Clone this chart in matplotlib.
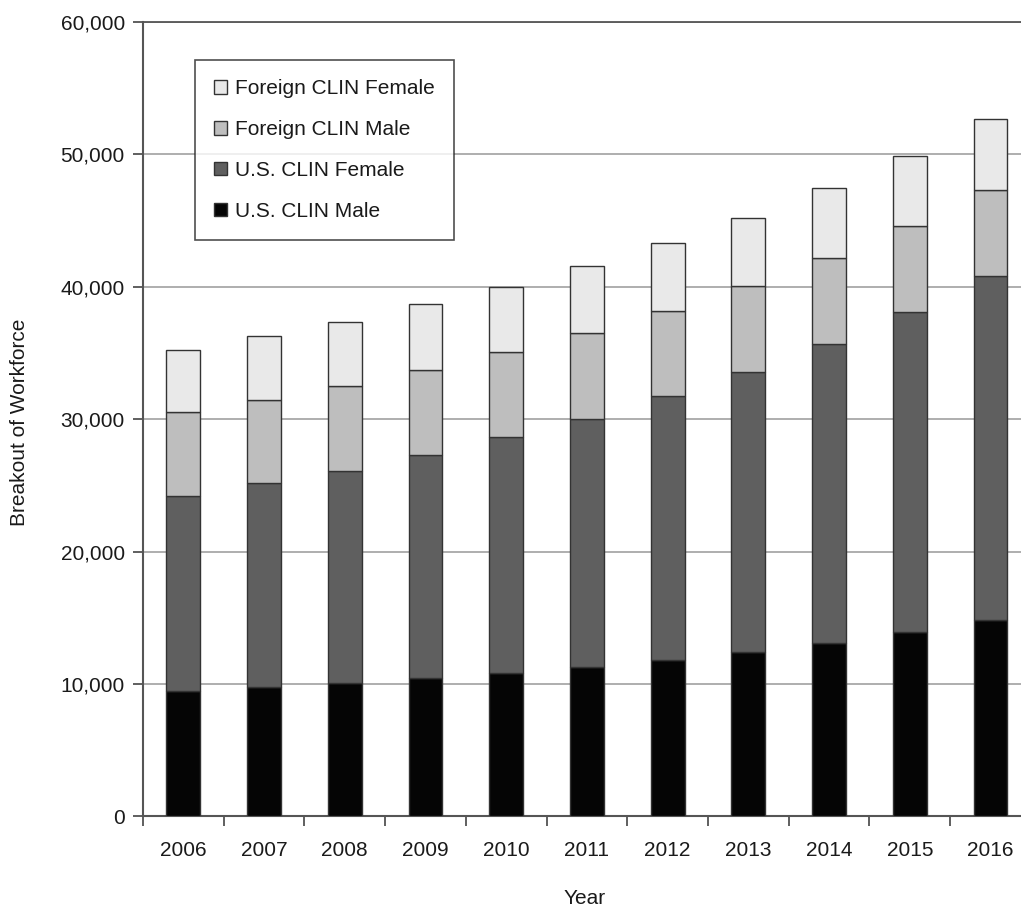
import matplotlib
matplotlib.use("Agg")
import matplotlib.pyplot as plt
from matplotlib.ticker import FuncFormatter, FixedLocator
import numpy as np

plt.rcParams['font.family'] = ['Liberation Sans', 'DejaVu Sans']

years = ["2006", "2007", "2008", "2009", "2010", "2011",
         "2012", "2013", "2014", "2015", "2016"]
us_male = [9500, 9800, 10100, 10430, 10800, 11280, 11830, 12440, 13120, 13920, 14830]
us_female = [14690, 15350, 15980, 16870, 17840, 18750, 19910, 21120, 22570, 24160, 25960]
foreign_male = [6340, 6310, 6430, 6420, 6420, 6450, 6450, 6490, 6480, 6530, 6530]
foreign_female = [4730, 4830, 4860, 4960, 4920, 5110, 5110, 5160, 5260, 5250, 5370]

series = [
    ("U.S. CLIN Male", us_male, "#050505"),
    ("U.S. CLIN Female", us_female, "#5f5f5f"),
    ("Foreign CLIN Male", foreign_male, "#bebebe"),
    ("Foreign CLIN Female", foreign_female, "#e9e9e9"),
]

FS = 15
TXT = "#1a1a1a"

fig = plt.figure(figsize=(10.21, 9.09), dpi=100)
ax = fig.add_axes([0.140, 0.1018, 0.8697, 0.874])

x = np.arange(len(years))
bottom = np.zeros(len(years))
handles = []
for name, vals, col in series:
    h = ax.bar(x, vals, width=0.42, bottom=bottom, color=col,
               edgecolor="#333333", linewidth=1.0, label=name, zorder=3)
    handles.append(h)
    bottom += np.array(vals)

ax.set_xlim(-0.5, 10.5)
ax.set_ylim(0, 60000)
ax.set_yticks(np.arange(0, 60001, 10000))
ax.yaxis.set_major_formatter(FuncFormatter(lambda v, p: f"{int(v):,}"))
ax.grid(axis="y", color="#a8a8a8", linewidth=1.3, zorder=0)
ax.set_axisbelow(True)

# category boundaries carry the ticks; year labels sit between them
ax.xaxis.set_major_locator(FixedLocator(np.arange(-0.5, 11, 1.0)))
ax.set_xticklabels([])
ax.set_xticks(x, minor=True)
ax.set_xticklabels(years, minor=True)
ax.tick_params(axis="x", which="major", direction="out", length=7,
               width=1.2, color="#444444")
ax.tick_params(axis="x", which="minor", length=0, pad=18,
               labelsize=FS, labelcolor=TXT)
ax.tick_params(axis="y", direction="out", length=7, width=1.2,
               color="#444444", pad=6, labelsize=FS, labelcolor=TXT)

ax.spines["right"].set_visible(False)
for side, lw in (("left", 1.5), ("bottom", 1.5), ("top", 1.3)):
    ax.spines[side].set_color("#555555")
    ax.spines[side].set_linewidth(lw)

leg = ax.legend(handles=handles[::-1], loc="upper left",
                bbox_to_anchor=(0.0587, 0.952), frameon=True, fancybox=False,
                edgecolor="#222222", fontsize=FS, handlelength=0.62,
                handleheight=0.62, handletextpad=0.38, labelspacing=1.05,
                borderpad=0.92, borderaxespad=0.0)
leg.get_frame().set_linewidth(1.2)
for t in leg.get_texts():
    t.set_color(TXT)

fig.text(0.019, 1 - 422.5 / 909, "Breakout of Workforce", rotation=90,
         ha="center", va="center", fontsize=FS, color=TXT)
fig.text(585 / 1021, 1 - 899 / 909, "Year", ha="center", va="center",
         fontsize=FS, color=TXT)

fig.savefig("out.png", dpi=100)
